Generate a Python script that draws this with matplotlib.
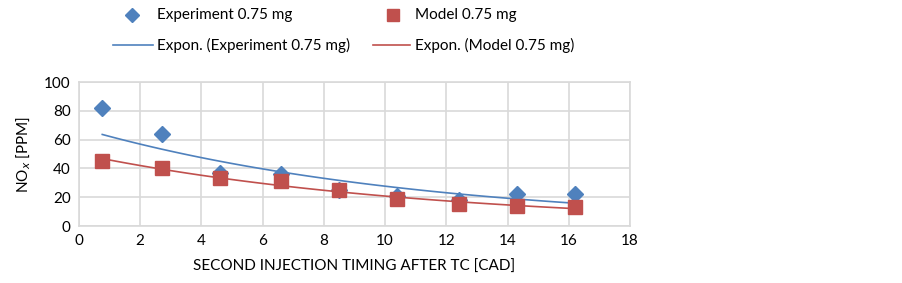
import numpy as np
import matplotlib.pyplot as plt
from matplotlib.lines import Line2D

timing = [0.76, 2.7, 4.6, 6.6, 8.5, 10.4, 12.4, 14.3, 16.2]
experiment = [82, 64, 37, 36, 25, 21, 18, 22, 22]
model = [45, 40, 33, 31, 25, 19, 15, 14, 13]

blue = "#4f81bd"
red = "#c0504d"
W, H = 903, 283

plt.rcParams["font.family"] = ["Lato", "DejaVu Sans"]


def expon_fit(x, y):
    # Excel-style exponential trendline: y = a*exp(b*x)
    b, lna = np.polyfit(x, np.log(y), 1)
    xs = np.linspace(min(x), max(x), 100)
    return xs, np.exp(lna) * np.exp(b * xs)


fig = plt.figure(figsize=(W / 100, H / 100), dpi=100)
ax = fig.add_axes([79 / W, 1 - 226 / H, 551 / W, 144 / H])

ax.plot(timing, experiment, "D", color=blue, markersize=8.5, zorder=3)
ax.plot(timing, model, "s", color=red, markersize=10, zorder=4)
xs, ys = expon_fit(timing, experiment)
ax.plot(xs, ys, color=blue, lw=1.2, zorder=2)
xs, ys = expon_fit(timing, model)
ax.plot(xs, ys, color=red, lw=1.2, zorder=5)

ax.set_xlim(0, 18)
ax.set_ylim(0, 100)
ax.set_xticks(range(0, 19, 2))
ax.set_yticks(range(0, 101, 20))
ax.grid(True, color="#d9d9d9", lw=1.2)
ax.set_axisbelow(True)
for s in ax.spines.values():
    s.set_color("#d9d9d9")
    s.set_linewidth(1.2)
ax.tick_params(length=0, labelsize=11, pad=6)
ax.set_xlabel("SECOND INJECTION TIMING AFTER TC [CAD]", fontsize=11, labelpad=8)
ax.set_ylabel("NO$_x$ [PPM]", fontsize=11, labelpad=8)


# legend drawn by hand, laid out like the Excel one
def fx(px):
    return px / W


def fy(py):
    return 1 - py / H


fig.add_artist(Line2D([fx(132)], [fy(15)], marker="D", color=blue, markersize=7,
                      ls="none", transform=fig.transFigure))
fig.text(fx(157), fy(15), "Experiment 0.75 mg", fontsize=11, va="center")
fig.add_artist(Line2D([fx(393)], [fy(15)], marker="s", color=red, markersize=9,
                      ls="none", transform=fig.transFigure))
fig.text(fx(415), fy(15), "Model 0.75 mg", fontsize=11, va="center")
fig.add_artist(Line2D([fx(113), fx(153)], [fy(45), fy(45)], color=blue, lw=1.2,
                      transform=fig.transFigure))
fig.text(fx(157), fy(45), "Expon. (Experiment 0.75 mg)", fontsize=11, va="center")
fig.add_artist(Line2D([fx(373), fx(410)], [fy(45), fy(45)], color=red, lw=1.2,
                      transform=fig.transFigure))
fig.text(fx(415), fy(45), "Expon. (Model 0.75 mg)", fontsize=11, va="center")

fig.savefig("out.png", dpi=100)
